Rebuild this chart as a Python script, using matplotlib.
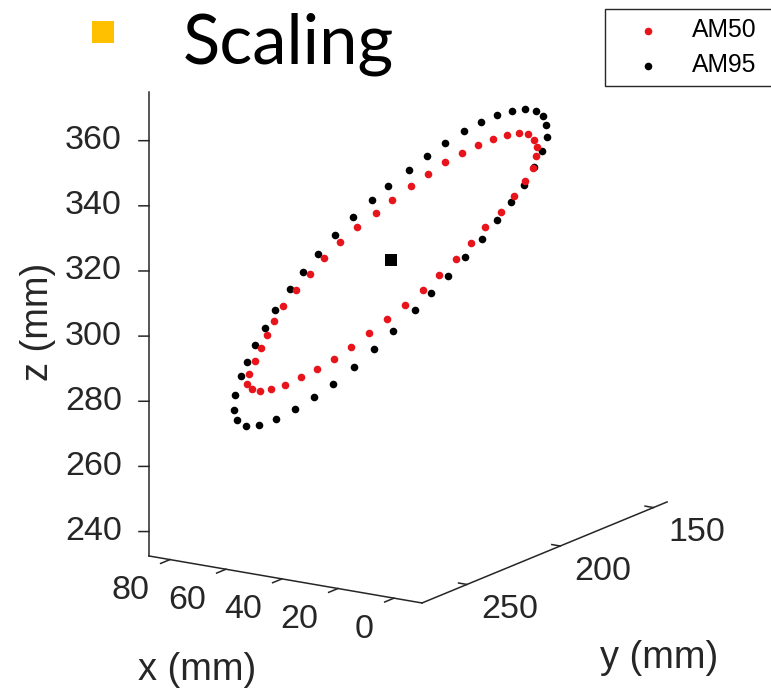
import numpy as np
import matplotlib
matplotlib.use("Agg")
import matplotlib.pyplot as plt
from matplotlib.patches import Rectangle
from mpl_toolkits.mplot3d import proj3d

# ---------------- data (mm) ----------------
am50_x = [50.1, 53.5, 57.5, 61.2, 64.6, 67.6, 70.6, 73.3, 75.4, 76.9, 78.2, 79.4, 80.6, 81.1, 80.1, 78.3,
          76.0, 73.0, 69.5, 66.2, 62.5, 58.8, 55.0, 51.1, 47.3, 43.5, 39.9, 36.3, 33.2, 30.0, 26.6, 23.9,
          21.6, 19.9, 19.2, 19.0, 19.6, 20.9, 22.8, 25.4, 28.3, 31.6, 35.0, 38.6, 42.3, 46.0]
am50_y = [200.1, 203.5, 207.5, 211.2, 214.6, 217.6, 220.6, 223.3, 225.4, 226.9, 228.2, 229.4, 230.6, 231.1,
          230.1, 228.3, 226.0, 223.0, 219.5, 216.2, 212.5, 208.8, 205.0, 201.1, 197.3, 193.5, 189.9, 186.3,
          183.2, 180.0, 176.6, 173.9, 171.6, 169.9, 169.2, 169.0, 169.6, 170.9, 172.8, 175.4, 178.3, 181.6,
          185.0, 188.6, 192.3, 196.0]
am50_z = [329.8, 326.3, 322.2, 317.8, 313.2, 308.7, 303.9, 299.4, 295.0, 290.9, 287.0, 283.0, 279.2, 276.1,
          274.5, 273.6, 274.0, 275.0, 277.1, 279.3, 282.1, 285.4, 289.4, 293.3, 297.4, 301.7, 305.9, 310.4,
          315.2, 319.8, 324.1, 328.9, 333.3, 337.0, 340.6, 343.3, 345.6, 347.4, 347.9, 347.7, 346.6, 345.2,
          343.0, 340.4, 337.2, 333.8]

am95_x = [50.8, 54.3, 58.3, 62.3, 65.8, 69.2, 71.8, 75.1, 77.3, 79.3, 81.2, 82.5, 83.6, 83.8, 83.2, 81.3,
          78.6, 74.9, 70.8, 66.8, 62.6, 58.2, 53.9, 49.8, 45.1, 41.7, 38.0, 34.3, 30.7, 27.5, 24.5, 21.8,
          19.5, 17.8, 16.9, 17.0, 17.7, 19.2, 21.5, 24.3, 27.5, 31.0, 34.7, 38.6, 42.5, 46.4]
am95_y = [200.8, 204.3, 208.3, 212.3, 215.8, 219.2, 221.8, 225.1, 227.3, 229.3, 231.2, 232.5, 233.6, 233.8,
          233.2, 231.3, 228.6, 224.9, 220.8, 216.8, 212.6, 208.2, 203.9, 199.8, 195.1, 191.7, 188.0, 184.3,
          180.7, 177.5, 174.5, 171.8, 169.5, 167.8, 166.9, 167.0, 167.7, 169.2, 171.5, 174.3, 177.5, 181.0,
          184.7, 188.6, 192.5, 196.4]
am95_z = [334.2, 330.2, 325.3, 320.1, 314.8, 309.5, 304.3, 298.3, 293.0, 287.8, 283.0, 278.7, 272.9, 268.4,
          265.2, 263.2, 263.2, 264.9, 267.4, 270.8, 274.5, 279.4, 284.5, 289.7, 295.7, 300.5, 305.6, 310.9,
          316.3, 321.7, 326.9, 332.1, 337.2, 342.1, 346.4, 350.0, 352.8, 354.5, 355.2, 354.9, 353.9, 352.1,
          349.7, 346.4, 342.7, 338.7]

center_x = [50.3]
center_y = [200.3]
center_z = [311.5]

x_ticks = [0, 20, 40, 60, 80]
y_ticks = [150, 200, 250]
z_ticks = [240, 260, 280, 300, 320, 340, 360]
x_lim = (-10.0, 87.5)
y_lim = (142.7, 274.1)
z_lim = (232.5, 375.0)

series_labels = ["AM50", "AM95"]
title_text = "Scaling"

# ---------------- figure ----------------
W, H = 771, 690
AX_COL = "#262626"
RED = "#e8141c"

fig = plt.figure(figsize=(W / 100, H / 100), dpi=100)
fig.patch.set_facecolor("white")
side0 = 500
ax = fig.add_axes([0.2, 0.1, side0 / W, side0 / H], projection="3d",
                  proj_type="ortho", computed_zorder=False)
ax.view_init(elev=15.45, azim=122.87, roll=0)
ax.set_box_aspect((325, 451.4, 481.4))
ax.set_xlim(*x_lim)
ax.set_ylim(*y_lim)
ax.set_zlim(*z_lim)
ax.set_axis_off()


def to_px(xs, ys, zs):
    x2, y2, _ = proj3d.proj_transform(np.asarray(xs, float), np.asarray(ys, float),
                                      np.asarray(zs, float), ax.get_proj())
    return ax.transData.transform(np.column_stack([x2, y2]))


# --- fit the box into the page (scale + offset only) ---
fig.canvas.draw()
cx = [x_lim[1], x_lim[1], x_lim[0], x_lim[0]]
cy = [y_lim[1], y_lim[1], y_lim[1], y_lim[0]]
cz = [z_lim[0], z_lim[1], z_lim[0], z_lim[0]]
targets = np.array([(149, H - 556), (149, H - 91.7), (422, H - 603), (667, H - 502)], float)
p = to_px(cx, cy, cz)
bb = ax.bbox
c0 = np.array([bb.x0 + bb.width / 2, bb.y0 + bb.height / 2])
q = (p - c0) / bb.width
qm, tm = q.mean(0), targets.mean(0)
s = ((targets - tm) * (q - qm)).sum() / ((q - qm) ** 2).sum()
cn = tm - s * qm
ax.set_position([(cn[0] - s / 2) / W, (cn[1] - s / 2) / H, s / W, s / H])
fig.canvas.draw()


def label_at(x, y, z, dpx, dpy, text, **kw):
    """Place a 2D label at the projection of (x, y, z), shifted by (dpx, dpy) pixels."""
    b = to_px([x], [y], [z])[0]
    fig.text((b[0] + dpx) / W, (b[1] + dpy) / H, text, **kw)


# ---------------- data ----------------
sc50 = ax.scatter(am50_x, am50_y, am50_z, s=30, c=RED, marker="o", linewidths=0,
                  depthshade=False, zorder=4, label=series_labels[0])
sc95 = ax.scatter(am95_x, am95_y, am95_z, s=30, c="black", marker="o", linewidths=0,
                  depthshade=False, zorder=3, label=series_labels[1])
ax.scatter(center_x, center_y, center_z, s=75, c="black", marker="s", linewidths=0,
           depthshade=False, zorder=5)

# ---------------- axes lines, ticks, labels ----------------
lw = 1.1
xmn, xmx = x_lim
ymn, ymx = y_lim
zmn, zmx = z_lim
ax.plot([xmx, xmn], [ymx, ymx], [zmn, zmn], color=AX_COL, lw=lw, zorder=1)
ax.plot([xmn, xmn], [ymx, ymn], [zmn, zmn], color=AX_COL, lw=lw, zorder=1)
ax.plot([xmx, xmx], [ymx, ymx], [zmn, zmx], color=AX_COL, lw=lw, zorder=1)

TICK_FS = 24.5
tick_kw = dict(fontsize=TICK_FS, family="Liberation Sans", color=AX_COL)
for t in x_ticks:
    ax.plot([t, t], [ymx, ymx + 5.0], [zmn, zmn], color=AX_COL, lw=lw, zorder=1)
    label_at(t, ymx, zmn, -20, -31, str(t), ha="right", va="center", **tick_kw)
for t in y_ticks:
    ax.plot([xmn, xmn + 3.0], [t, t], [zmn, zmn], color=AX_COL, lw=lw, zorder=1)
    label_at(xmn, t, zmn, 43, -25, str(t), ha="center", va="center", **tick_kw)
for t in z_ticks:
    ax.plot([xmx, xmx + 2.5], [ymx, ymx + 1.6], [t, t], color=AX_COL, lw=lw, zorder=1)
    label_at(xmx, ymx, t, -27, 0, str(t), ha="right", va="center", **tick_kw)

LAB_FS = 27.4
fig.text(37.5 / W, 1 - 321.7 / H, "z (mm)", rotation=90, ha="center", va="center",
         fontsize=LAB_FS, family="Liberation Sans", color=AX_COL)
fig.text(197.5 / W, 1 - 670 / H, "x (mm)", ha="center", va="center",
         fontsize=LAB_FS, family="Liberation Sans", color=AX_COL)
fig.text(658.8 / W, 1 - 658.3 / H, "y (mm)", ha="center", va="center",
         fontsize=LAB_FS, family="Liberation Sans", color=AX_COL)

# ---------------- legend ----------------
leg = fig.legend([sc50, sc95], series_labels, loc="upper left",
                 bbox_to_anchor=(605 / W, 0, 0.4, 1 - 9.3 / H), bbox_transform=fig.transFigure,
                 mode="expand", borderaxespad=0, borderpad=0.37, handlelength=2.70,
                 handletextpad=0.45, labelspacing=0.44, fancybox=False, framealpha=1,
                 edgecolor=AX_COL, scatterpoints=1,
                 prop={"family": "Liberation Sans", "size": 17.8})
leg.get_frame().set_linewidth(1.0)

# ---------------- slide title ----------------
fig.patches.append(Rectangle((92.3 / W, 1 - 42.7 / H), 21.7 / W, 21.7 / H,
                             transform=fig.transFigure, facecolor="#FFC000",
                             edgecolor="none"))
fig.text(183 / W, 1 - 63.3 / H, title_text, ha="left", va="baseline",
         fontsize=49.5, family="Lato", color="black")

fig.savefig("out.png", dpi=100, facecolor="white")
